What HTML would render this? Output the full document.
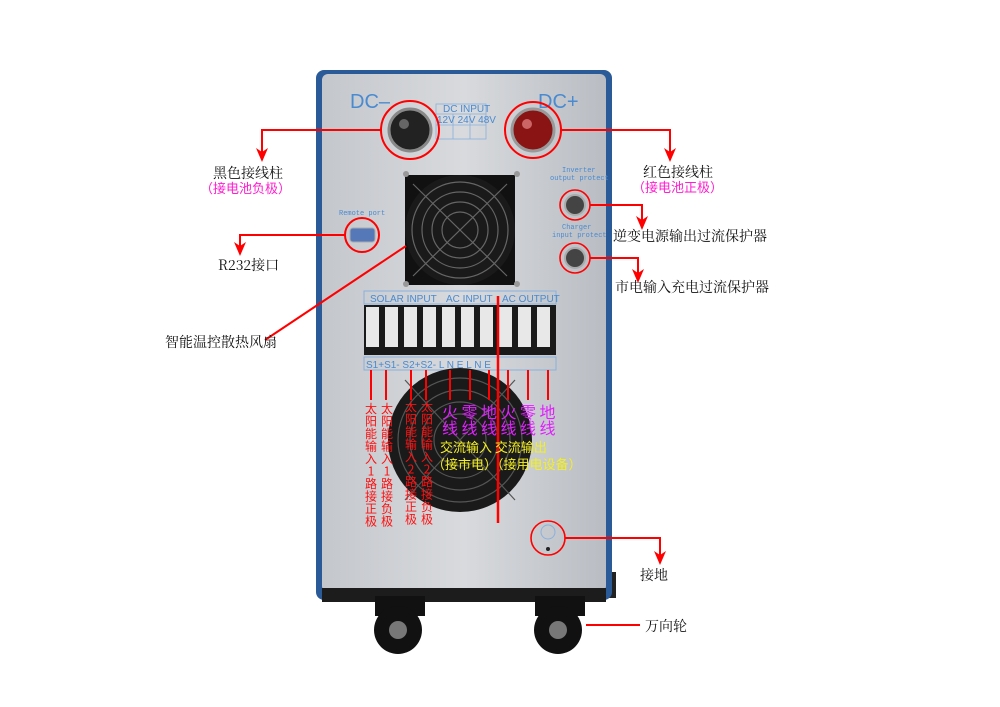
<!DOCTYPE html>
<html><head><meta charset="utf-8"><style>
html,body{margin:0;padding:0;background:#fff;}
svg{display:block;}
.lb{font-family:"Noto Serif CJK SC","Noto Sans CJK SC",serif;font-size:14px;fill:#111;}
.mg{font-family:"Noto Sans CJK SC",sans-serif;font-size:13px;fill:#ff1fd0;}
.sm{font-family:"Liberation Mono",monospace;font-size:7px;fill:#4a8ad0;}
.vt{font-family:"Noto Sans CJK SC",sans-serif;font-size:12px;fill:#ff1010;}
.pk{font-family:"Noto Sans CJK SC",sans-serif;font-size:16px;fill:#e020ff;letter-spacing:3.5px;}
.yl{font-family:"Noto Sans CJK SC",sans-serif;font-size:13px;fill:#f4f020;}
.hd{font-family:"Liberation Sans",sans-serif;font-size:10px;fill:#4a8ad0;}
</style></head><body>
<svg width="1000" height="707" viewBox="0 0 1000 707" xmlns="http://www.w3.org/2000/svg">
<defs>
<linearGradient id="pan" x1="0" x2="1"><stop offset="0" stop-color="#c4c7cc"/><stop offset="0.5" stop-color="#d8dadd"/><stop offset="1" stop-color="#b9bdc3"/></linearGradient>
</defs>
<rect x="590" y="572" width="26" height="26" fill="#222"/>
<rect x="316" y="70" width="296" height="530" rx="8" fill="#2a5a98"/>
<rect x="322" y="74" width="284" height="518" rx="6" fill="url(#pan)"/>
<rect x="322" y="588" width="284" height="14" fill="#1c1c1c"/>
<rect x="375" y="596" width="50" height="20" fill="#111"/>
<circle cx="398" cy="630" r="24" fill="#111"/><circle cx="398" cy="630" r="9" fill="#777"/>
<rect x="535" y="596" width="50" height="20" fill="#111"/>
<circle cx="558" cy="630" r="24" fill="#111"/><circle cx="558" cy="630" r="9" fill="#777"/>
<text x="350" y="108" font-family="Liberation Sans" font-size="20" fill="#4a8ad0">DC–</text>
<text x="538" y="108" font-family="Liberation Sans" font-size="20" fill="#4a8ad0">DC+</text>
<g stroke="#8ab0dd" stroke-width="0.8" fill="none"><rect x="436" y="104" width="50" height="35"/><line x1="436" y1="114" x2="486" y2="114"/><line x1="436" y1="125" x2="486" y2="125"/><line x1="453" y1="114" x2="453" y2="139"/><line x1="470" y1="114" x2="470" y2="139"/></g>
<text x="443" y="112" class="hd" font-size="8">DC INPUT</text>
<text x="437" y="123" class="hd" font-size="8">12V 24V 48V</text>
<circle cx="410" cy="130" r="21" fill="#222" stroke="#888" stroke-width="3"/>
<circle cx="404" cy="124" r="5" fill="#666"/>
<circle cx="410" cy="130" r="29" fill="none" stroke="#f00" stroke-width="2"/>
<circle cx="533" cy="130" r="21" fill="#8a1414" stroke="#999" stroke-width="3"/>
<circle cx="527" cy="124" r="5" fill="#c66"/>
<circle cx="533" cy="130" r="28" fill="none" stroke="#f00" stroke-width="2"/>
<rect x="405" y="175" width="110" height="110" fill="#111"/>
<circle cx="460" cy="230" r="55" fill="#1a1a1a"/>
<g fill="none" stroke="#666" stroke-width="1.2"><circle cx="460" cy="230" r="48"/><circle cx="460" cy="230" r="38"/><circle cx="460" cy="230" r="28"/><circle cx="460" cy="230" r="18"/><line x1="413" y1="276" x2="507" y2="184"/><line x1="413" y1="184" x2="507" y2="276"/></g>
<circle cx="406" cy="174" r="3" fill="#999"/><circle cx="517" cy="174" r="3" fill="#999"/><circle cx="406" cy="284" r="3" fill="#999"/><circle cx="517" cy="284" r="3" fill="#999"/>
<text x="339" y="215" class="sm">Remote port</text>
<rect x="350" y="228" width="25" height="14" rx="3" fill="#5578b8" stroke="#aaa"/>
<circle cx="362" cy="235" r="17" fill="none" stroke="#f00" stroke-width="2"/>
<text x="562" y="172" class="sm">Inverter</text><text x="550" y="180" class="sm">output protect</text>
<circle cx="575" cy="205" r="10" fill="#444" stroke="#aaa" stroke-width="2"/><circle cx="575" cy="205" r="15" fill="none" stroke="#f00" stroke-width="1.6"/>
<text x="562" y="229" class="sm">Charger</text><text x="552" y="237" class="sm">input protect</text>
<circle cx="575" cy="258" r="10" fill="#444" stroke="#aaa" stroke-width="2"/><circle cx="575" cy="258" r="15" fill="none" stroke="#f00" stroke-width="1.6"/>
<rect x="364" y="291" width="192" height="13" fill="none" stroke="#8ab0dd"/>
<text x="370" y="302" class="hd">SOLAR  INPUT</text><text x="446" y="302" class="hd">AC  INPUT</text><text x="502" y="302" class="hd">AC  OUTPUT</text>
<rect x="364" y="305" width="192" height="50" fill="#1a1a1a"/>
<g fill="#e8e8e8">
<rect x="366" y="307" width="13" height="40"/><rect x="385" y="307" width="13" height="40"/><rect x="404" y="307" width="13" height="40"/><rect x="423" y="307" width="13" height="40"/><rect x="442" y="307" width="13" height="40"/><rect x="461" y="307" width="13" height="40"/><rect x="480" y="307" width="13" height="40"/><rect x="499" y="307" width="13" height="40"/><rect x="518" y="307" width="13" height="40"/><rect x="537" y="307" width="13" height="40"/>
</g>
<rect x="364" y="357" width="192" height="13" fill="none" stroke="#8ab0dd"/>
<text x="366" y="368" class="hd">S1+S1- S2+S2-  L    N    E    L    N    E</text>
<circle cx="460" cy="440" r="72" fill="#1a1a1a"/>
<g fill="none" stroke="#555" stroke-width="1.2"><circle cx="460" cy="440" r="62"/><circle cx="460" cy="440" r="50"/><circle cx="460" cy="440" r="38"/><circle cx="460" cy="440" r="26"/><line x1="405" y1="500" x2="515" y2="380"/><line x1="405" y1="380" x2="515" y2="500"/></g>
<circle cx="548" cy="538" r="17" fill="none" stroke="#f00" stroke-width="1.6"/>
<circle cx="548" cy="532" r="7" fill="none" stroke="#8ab0dd"/>
<circle cx="548" cy="549" r="2" fill="#222"/>
<g stroke="#f00" stroke-width="2" fill="none">
<polyline points="381,130 262,130 262,152"/>
<polyline points="345,235 240,235 240,246"/>
<line x1="406" y1="246" x2="265" y2="340"/>
<polyline points="561,130 670,130 670,152"/>
<polyline points="590,205 642,205 642,220"/>
<polyline points="590,258 638,258 638,273"/>
<polyline points="565,538 660,538 660,555"/>
<line x1="586" y1="625" x2="640" y2="625"/>
<line x1="498" y1="296" x2="498" y2="523" stroke-width="2.5"/>
<line x1="371" y1="370" x2="371" y2="400"/><line x1="386" y1="370" x2="386" y2="400"/><line x1="411" y1="370" x2="411" y2="400"/><line x1="426" y1="370" x2="426" y2="400"/>
<line x1="450" y1="370" x2="450" y2="400"/><line x1="470" y1="370" x2="470" y2="400"/><line x1="489" y1="370" x2="489" y2="400"/><line x1="508" y1="370" x2="508" y2="400"/><line x1="528" y1="370" x2="528" y2="400"/><line x1="548" y1="370" x2="548" y2="400"/>
</g>
<g fill="#f00">
<path d="M256,148 L262,152 L268,148 L262,162Z"/>
<path d="M234,242 L240,246 L246,242 L240,256Z"/>
<path d="M664,148 L670,152 L676,148 L670,162Z"/>
<path d="M636,216 L642,220 L648,216 L642,230Z"/>
<path d="M632,269 L638,273 L644,269 L638,283Z"/>
<path d="M654,551 L660,555 L666,551 L660,565Z"/>
</g>
<g class="vt" text-anchor="middle">
<text x="371" y="413"><tspan x="371">太</tspan><tspan x="371" dy="12.5">阳</tspan><tspan x="371" dy="12.5">能</tspan><tspan x="371" dy="12.5">输</tspan><tspan x="371" dy="12.5">入</tspan><tspan x="371" dy="12.5">1</tspan><tspan x="371" dy="12.5">路</tspan><tspan x="371" dy="12.5">接</tspan><tspan x="371" dy="12.5">正</tspan><tspan x="371" dy="12.5">极</tspan></text>
<text x="387" y="413"><tspan x="387">太</tspan><tspan x="387" dy="12.5">阳</tspan><tspan x="387" dy="12.5">能</tspan><tspan x="387" dy="12.5">输</tspan><tspan x="387" dy="12.5">入</tspan><tspan x="387" dy="12.5">1</tspan><tspan x="387" dy="12.5">路</tspan><tspan x="387" dy="12.5">接</tspan><tspan x="387" dy="12.5">负</tspan><tspan x="387" dy="12.5">极</tspan></text>
<text x="411" y="411"><tspan x="411">太</tspan><tspan x="411" dy="12.5">阳</tspan><tspan x="411" dy="12.5">能</tspan><tspan x="411" dy="12.5">输</tspan><tspan x="411" dy="12.5">入</tspan><tspan x="411" dy="12.5">2</tspan><tspan x="411" dy="12.5">路</tspan><tspan x="411" dy="12.5">接</tspan><tspan x="411" dy="12.5">正</tspan><tspan x="411" dy="12.5">极</tspan></text>
<text x="427" y="411"><tspan x="427">太</tspan><tspan x="427" dy="12.5">阳</tspan><tspan x="427" dy="12.5">能</tspan><tspan x="427" dy="12.5">输</tspan><tspan x="427" dy="12.5">入</tspan><tspan x="427" dy="12.5">2</tspan><tspan x="427" dy="12.5">路</tspan><tspan x="427" dy="12.5">接</tspan><tspan x="427" dy="12.5">负</tspan><tspan x="427" dy="12.5">极</tspan></text>
</g>
<text x="442" y="418" class="pk">火零地火零地</text>
<text x="442" y="434" class="pk">线线线线线线</text>
<text x="440" y="452" class="yl">交流输入 交流输出</text>
<text x="432" y="469" class="yl">（接市电）（接用电设备）</text>
<text x="213" y="178" class="lb">黑色接线柱</text>
<text x="200" y="193" class="mg">（接电池负极）</text>
<text x="218" y="270" class="lb">R232接口</text>
<text x="165" y="347" class="lb">智能温控散热风扇</text>
<text x="643" y="177" class="lb">红色接线柱</text>
<text x="632" y="192" class="mg">（接电池正极）</text>
<text x="613" y="241" class="lb">逆变电源输出过流保护器</text>
<text x="615" y="292" class="lb">市电输入充电过流保护器</text>
<text x="640" y="580" class="lb">接地</text>
<text x="645" y="631" class="lb">万向轮</text>
</svg>
</body></html>
